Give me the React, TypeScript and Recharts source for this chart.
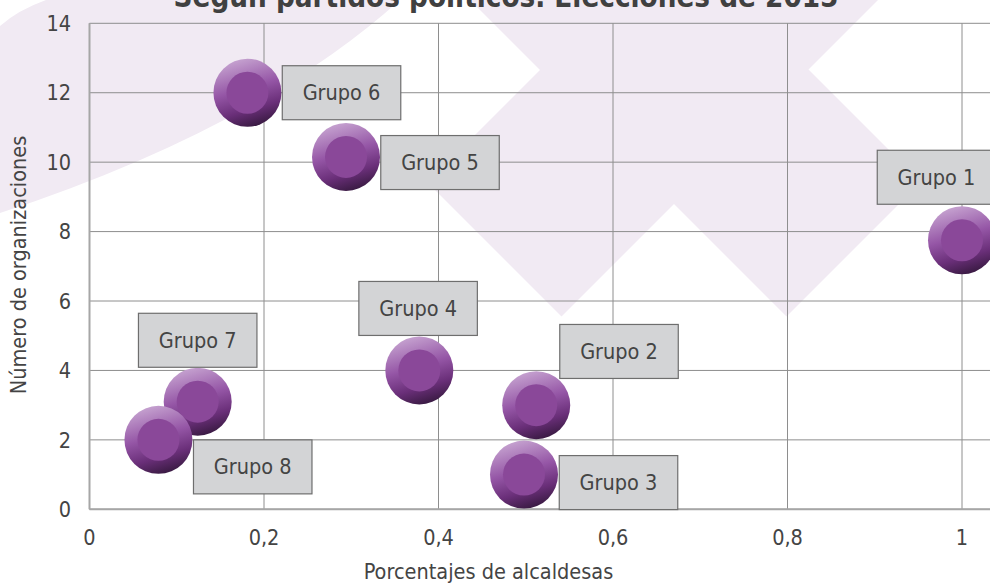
import React from 'react';
import { ScatterChart, Scatter, XAxis, YAxis, CartesianGrid, Label } from 'recharts';

// ---------- data ----------
const groupNames = ['Grupo 1', 'Grupo 2', 'Grupo 3', 'Grupo 4', 'Grupo 5', 'Grupo 6', 'Grupo 7', 'Grupo 8'];
const pctAlcaldesas = [1.0, 0.512, 0.498, 0.378, 0.294, 0.181, 0.124, 0.079];
const numOrganizaciones = [7.75, 3, 1, 4, 10.15, 12, 3.1, 2];

const xTicks = [0, 0.2, 0.4, 0.6, 0.8, 1];
const xTickLabels = ['0', '0,2', '0,4', '0,6', '0,8', '1'];
const yTicks = [0, 2, 4, 6, 8, 10, 12, 14];
const yTickLabels = ['0', '2', '4', '6', '8', '10', '12', '14'];

const chartTitle = 'Según partidos políticos. Elecciones de 2015';
const xTitle = 'Porcentajes de alcaldesas';
const yTitle = 'Número de organizaciones';

// ---------- layout / style ----------
const FONT = "'DejaVu Sans Condensed', 'DejaVu Sans', sans-serif";
const TEXT = '#444444';
const WATERMARK = '#f1eaf3';
const FS = 21.5;

// label box centre offset from bubble centre (px)
const LABEL_OFFSETS: Record<string, [number, number]> = {
  'Grupo 1': [-25.5, -63],
  'Grupo 2': [82.8, -53.7],
  'Grupo 3': [94.5, 8],
  'Grupo 4': [-1.2, -62],
  'Grupo 5': [94, 5.6],
  'Grupo 6': [94.1, 0],
  'Grupo 7': [0, -61.4],
  'Grupo 8': [94.3, 27],
};

const data = groupNames.map((name, i) => ({ name, x: pctAlcaldesas[i], y: numOrganizaciones[i] }));

const Bubble = (props: any) => {
  const { cx, cy } = props;
  if (cx == null || cy == null) return null;
  return (
    <g>
      <circle cx={cx} cy={cy} r={34} fill="url(#ringGrad)" />
      <circle cx={cx} cy={cy} r={21} fill="#8a4899" />
    </g>
  );
};

const LabelBox = (props: any) => {
  const { cx, cy, payload } = props;
  if (cx == null || cy == null) return null;
  const [dx, dy] = LABEL_OFFSETS[payload.name] || [0, 0];
  const w = 118.5;
  const h = 54;
  const bx = cx + dx;
  const by = cy + dy;
  return (
    <g>
      <rect x={bx - w / 2} y={by - h / 2} width={w} height={h} fill="#d3d4d6" stroke="#6e6e6e" strokeWidth={1.2} />
      <text x={bx} y={by + 7.5} textAnchor="middle" fontFamily={FONT} fontSize={FS} fill={TEXT}>
        {payload.name}
      </text>
    </g>
  );
};

export default function App() {
  const W = 1136.5;
  const H = 584;
  return (
    <div style={{ position: 'fixed', left: 0, top: 0, width: 990, height: 584, overflow: 'hidden', background: '#ffffff' }}>
      <svg width={990} height={584} style={{ position: 'absolute', left: 0, top: 0 }}>
        <path d="M0,26 Q18,10 46,0 L400,0 Q258,128 0,213 Z" fill={WATERMARK} />
        <polygon points="427.5,-42.5 786.5,316.5 921,182 562,-177" fill={WATERMARK} />
        <polygon points="427.5,182.5 561.5,316.5 920.5,-42.5 786.5,-176.5" fill={WATERMARK} />
        <text x={506} y={6.5} textAnchor="middle" fontFamily={FONT} fontWeight="bold" fontSize={29.3} fill="#404040">
          {chartTitle}
        </text>
      </svg>
      <div style={{ position: 'absolute', left: 0, top: 0 }}>
        <ScatterChart width={W} height={H} margin={{ top: 23.3, right: 0, bottom: 0, left: 0 }}>
          <defs>
            <linearGradient id="ringGrad" x1="0.3" y1="0" x2="0.6" y2="1">
              <stop offset="0" stopColor="#c8a6d2" />
              <stop offset="0.45" stopColor="#9556a6" />
              <stop offset="0.75" stopColor="#6a2f79" />
              <stop offset="1" stopColor="#391a42" />
            </linearGradient>
          </defs>
          <CartesianGrid stroke="#8e8e8e" strokeWidth={1} />
          <XAxis
            type="number"
            dataKey="x"
            domain={[0, 1.2]}
            ticks={xTicks}
            interval={0}
            height={74.7}
            tickLine={false}
            tickSize={0}
            tickMargin={20}
            axisLine={{ stroke: '#a6a6a6', strokeWidth: 2 }}
            tick={{ fill: TEXT, fontSize: FS, fontFamily: FONT }}
            tickFormatter={(v: number) => xTickLabels[xTicks.indexOf(v)] ?? String(v)}
          >
            <Label
              content={() => (
                <text x={488.5} y={579} textAnchor="middle" fontFamily={FONT} fontSize={FS} fill={TEXT}>
                  {xTitle}
                </text>
              )}
            />
          </XAxis>
          <YAxis
            type="number"
            dataKey="y"
            domain={[0, 14]}
            ticks={yTicks}
            interval={0}
            width={89.5}
            tickLine={false}
            tickSize={0}
            tickMargin={18.5}
            axisLine={{ stroke: '#a6a6a6', strokeWidth: 2 }}
            tick={{ fill: TEXT, fontSize: FS, fontFamily: FONT }}
            tickFormatter={(v: number) => yTickLabels[yTicks.indexOf(v)] ?? String(v)}
          >
            <Label
              content={() => (
                <text
                  x={0}
                  y={0}
                  transform="translate(26,265) rotate(-90)"
                  textAnchor="middle"
                  fontFamily={FONT}
                  fontSize={FS}
                  fill={TEXT}
                >
                  {yTitle}
                </text>
              )}
            />
          </YAxis>
          <Scatter data={data} shape={Bubble} isAnimationActive={false} />
          <Scatter data={data} shape={LabelBox} isAnimationActive={false} />
        </ScatterChart>
      </div>
    </div>
  );
}
